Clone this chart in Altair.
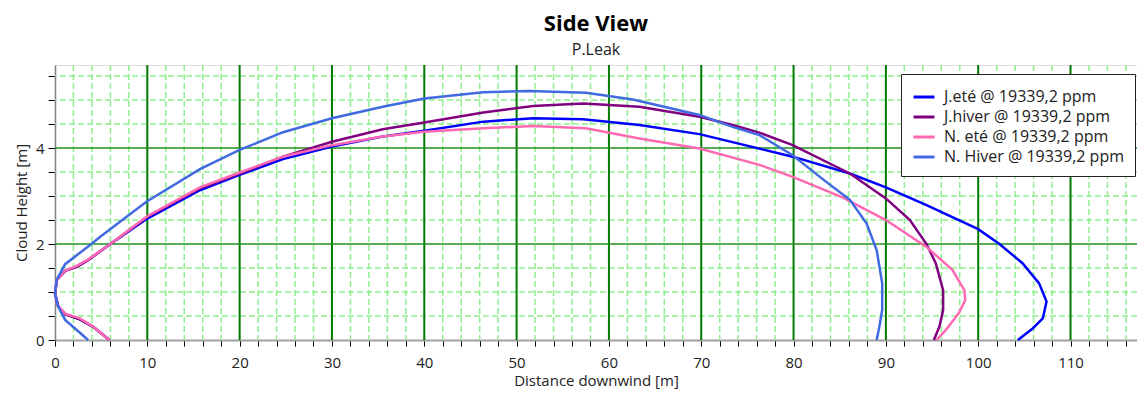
import altair as alt
import pandas as pd

series_names = ["J.eté @ 19339,2 ppm", "J.hiver @ 19339,2 ppm",
                "N. eté @ 19339,2 ppm", "N. Hiver @ 19339,2 ppm"]
series_colors = ["#0000ff", "#800080", "#ff69b4", "#4169e1"]

jete_x = [5.9, 4.1, 2.7, 1.1, 0.35, 0.0, 0.2, 1.1, 2.4, 3.6, 6.0, 10.0, 15.7, 20.0, 24.7, 30.0,
          35.5, 40.0, 46.4, 51.8, 57.2, 63.3, 69.8, 79.9, 86.1, 90.0, 94.4, 100.0, 102.3,
          104.8, 106.6, 107.4, 107.0, 105.9, 104.3]
jete_y = [0.0, 0.28, 0.43, 0.54, 0.7, 0.97, 1.25, 1.44, 1.53, 1.67, 2.0, 2.53, 3.12, 3.44, 3.77, 4.03,
          4.24, 4.36, 4.55, 4.62, 4.60, 4.48, 4.29, 3.82, 3.47, 3.18, 2.81, 2.31, 2.0,
          1.6, 1.18, 0.80, 0.45, 0.24, 0.0]

jhiver_x = [5.9, 4.1, 2.7, 1.1, 0.35, 0.0, 0.2, 1.1, 2.4, 3.6, 6.0, 10.0, 15.7, 20.0, 24.7, 30.0,
            35.5, 40.0, 46.4, 51.8, 57.2, 63.3, 69.8, 73.4, 76.3, 79.9, 86.1, 90.0, 92.6, 94.4,
            95.4, 96.2, 96.2, 95.8, 95.2]
jhiver_y = [0.0, 0.28, 0.43, 0.54, 0.7, 0.97, 1.25, 1.44, 1.53, 1.67, 2.0, 2.57, 3.16, 3.47, 3.82, 4.13,
            4.39, 4.53, 4.74, 4.875, 4.93, 4.86, 4.65, 4.48, 4.32, 4.06, 3.47, 2.95, 2.5, 2.0,
            1.6, 1.04, 0.625, 0.28, 0.0]

nete_x = [5.9, 4.1, 2.7, 1.1, 0.35, 0.0, 0.2, 1.1, 2.4, 3.6, 6.0, 10.0, 15.7, 20.0, 24.7, 30.0,
          35.5, 40.0, 46.4, 51.8, 57.5, 63.3, 69.8, 76.3, 79.9, 85.3, 90.0, 94.4, 97.2, 98.5,
          98.6, 97.9, 96.5, 95.5]
nete_y = [0.0, 0.28, 0.45, 0.55, 0.7, 0.97, 1.25, 1.44, 1.55, 1.68, 2.0, 2.58, 3.18, 3.49, 3.82, 4.06,
          4.24, 4.34, 4.41, 4.46, 4.41, 4.20, 3.99, 3.65, 3.40, 2.97, 2.5, 1.94, 1.46, 1.04,
          0.83, 0.56, 0.21, 0.0]

nhiver_x = [3.6, 1.1, 0.36, 0.0, 0.18, 1.1, 3.8, 4.9, 9.9, 15.7, 20.0, 24.7, 30.0, 35.5, 40.0,
            46.4, 51.4, 57.5, 62.6, 69.8, 73.4, 76.3, 79.9, 83.5, 86.1, 87.9, 89.0, 89.6, 89.6,
            89.3, 89.0]
nhiver_y = [0.0, 0.42, 0.69, 0.97, 1.25, 1.58, 1.98, 2.15, 2.88, 3.56, 3.96, 4.33, 4.62, 4.86, 5.03,
            5.16, 5.19, 5.15, 5.01, 4.69, 4.44, 4.27, 3.85, 3.30, 2.92, 2.43, 1.875, 1.18, 0.625,
            0.28, 0.0]

x_ticks = list(range(0, 118, 2))
y_ticks = [0, 0.5, 1, 1.5, 2, 2.5, 3, 3.5, 4, 4.5, 5, 5.5]
x_major_grid = [10, 20, 30, 40, 50, 60, 70, 80, 90, 100, 110]
x_minor_grid = [v for v in x_ticks if v % 10 != 0]
y_major_grid = [2, 4]
y_minor_grid = [0.5, 1, 1.5, 2.5, 3, 3.5, 4.5, 5, 5.5]

rows = []
for name, xs_, ys_ in zip(series_names, [jete_x, jhiver_x, nete_x, nhiver_x],
                          [jete_y, jhiver_y, nete_y, nhiver_y]):
    for i, (xv, yv) in enumerate(zip(xs_, ys_)):
        rows.append({"series": name, "x": xv, "y": yv, "i": i})
df = pd.DataFrame(rows)

FONT = "Open Sans"
xscale = alt.Scale(domain=[0, 117.2], nice=False, zero=False)
yscale = alt.Scale(domain=[0, 5.73], nice=False, zero=False)

xaxis = alt.Axis(
    values=x_ticks, labelExpr="datum.value % 10 == 0 ? format(datum.value, 'd') : ''",
    title="Distance downwind [m]", grid=False, labelOverlap=False, labelFlush=False,
    tickSize=6, tickColor="#000", domainColor="#a0a0a0", domainWidth=2,
    labelPadding=9, titlePadding=3, labelFontSize=15, titleFontSize=15,
    labelFont=FONT, titleFont=FONT, titleFontWeight="normal",
    labelColor="#222", titleColor="#222")
yaxis = alt.Axis(
    values=y_ticks, labelExpr="datum.value % 2 == 0 ? format(datum.value, 'd') : ''",
    title="Cloud Height [m]", grid=False, labelOverlap=False, labelFlush=False,
    tickSize=7, tickColor="#000", domainColor="#808080", domainWidth=1.5,
    labelPadding=4, titlePadding=6, labelFontSize=15, titleFontSize=15,
    labelFont=FONT, titleFont=FONT, titleFontWeight="normal",
    labelColor="#222", titleColor="#222")

minor_v = alt.Chart(pd.DataFrame({"x": x_minor_grid})).mark_rule(
    color="#90ee90", strokeWidth=1.5, strokeDash=[6, 3]
).encode(x=alt.X("x:Q", scale=xscale, axis=xaxis))
minor_h = alt.Chart(pd.DataFrame({"y": y_minor_grid})).mark_rule(
    color="#90ee90", strokeWidth=1.5, strokeDash=[6, 3]
).encode(y=alt.Y("y:Q", scale=yscale, axis=yaxis))
major_v = alt.Chart(pd.DataFrame({"x": x_major_grid})).mark_rule(
    color="#007a00", strokeWidth=2
).encode(x=alt.X("x:Q", scale=xscale, axis=xaxis))
major_h = alt.Chart(pd.DataFrame({"y": y_major_grid})).mark_rule(
    color="#1f931f", strokeWidth=1.5
).encode(y=alt.Y("y:Q", scale=yscale, axis=yaxis))

lines = alt.Chart(df).mark_line(strokeWidth=2.5, interpolate="linear").encode(
    x=alt.X("x:Q", scale=xscale, axis=xaxis),
    y=alt.Y("y:Q", scale=yscale, axis=yaxis),
    color=alt.Color("series:N", scale=alt.Scale(domain=series_names, range=series_colors),
                    legend=alt.Legend(
                        title=None, orient="none", legendX=846, legendY=9,
                        symbolType="stroke", symbolStrokeWidth=3, symbolSize=441,
                        labelFontSize=16, labelFont=FONT, labelColor="#222", labelLimit=400,
                        fillColor="white", strokeColor="#222", padding=11,
                        rowPadding=0, labelOffset=8)),
    order=alt.Order("i:Q"),
)

chart = alt.layer(minor_v, minor_h, major_v, major_h, lines).properties(
    width=1082, height=275,
    title=alt.TitleParams("Side View", subtitle="P.Leak", fontSize=22, fontWeight="bold",
                          font=FONT, subtitleFont=FONT, subtitleFontSize=16,
                          subtitleColor="#222", color="#000", anchor="middle",
                          offset=5, subtitlePadding=6),
    autosize=alt.AutoSizeParams(type="none"),
    padding={"left": 47, "top": 57, "right": 0, "bottom": 52},
).configure_view(stroke="#a0a0a0", strokeWidth=1.5).configure(background="white")

chart.save("out.html", embed_options={"renderer": "svg", "actions": False})
